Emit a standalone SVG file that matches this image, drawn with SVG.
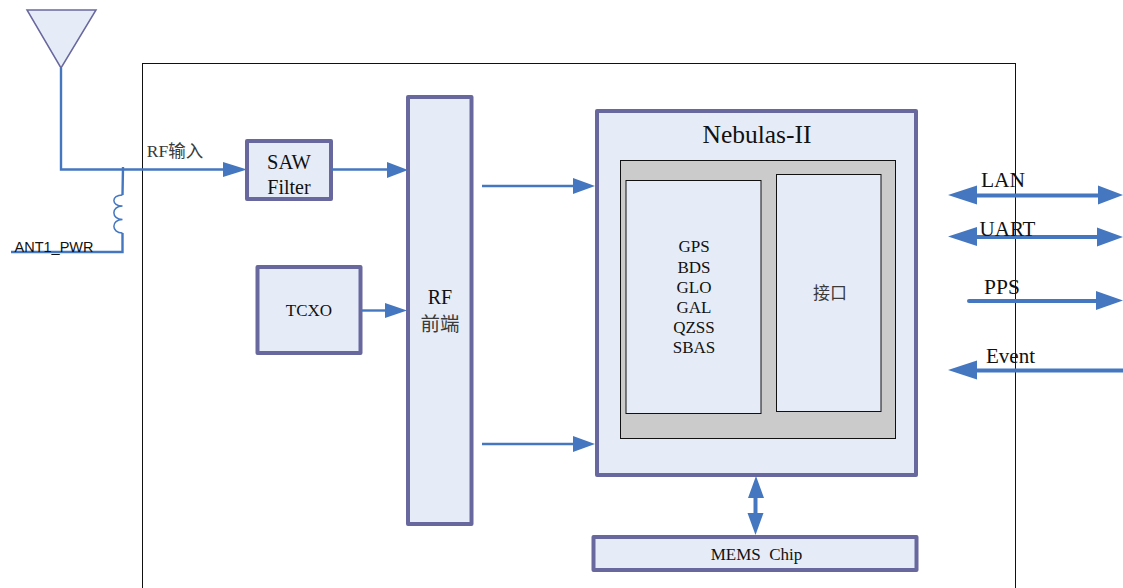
<svg xmlns="http://www.w3.org/2000/svg" width="1123" height="588" viewBox="0 0 1123 588">
<style>
text{font-family:"Liberation Serif","Noto Sans CJK SC",serif;fill:#111;text-anchor:middle}
text.cjk{fill:#3a3a3a}
.box{fill:#e6ecf7;stroke:#68689e;stroke-width:4;stroke-linejoin:round}
.thin{fill:#e6ecf7;stroke:#111;stroke-width:1}
.c{fill:none;stroke:#4577c0;stroke-width:2.4}
.t{fill:none;stroke:#4577c0;stroke-width:4}
.h{fill:#4577c0;stroke:none}
</style>
<rect id="frame" x="142.500" y="63.500" width="873" height="540" fill="none" stroke="#111" stroke-width="1"/>
<g id="antenna"><path d="M27 10H96L61 68Z" fill="#e6ecf7" stroke="#68689e" stroke-width="1.500"/></g>
<g id="saw"><rect class="box" x="247" y="141" width="84" height="58"/><text x="289" y="169" font-size="20.500">SAW</text><text x="289" y="194" font-size="20">Filter</text></g>
<g id="tcxo"><rect class="box" x="257.500" y="267" width="103" height="86"/><text x="309" y="316" font-size="17">TCXO</text></g>
<g id="rf"><rect class="box" x="408" y="97" width="63.500" height="427"/><text x="440" y="304" font-size="20">RF</text><text class="cjk" x="440" y="331" font-size="19.500">前端</text></g>
<g id="nebulas"><rect class="box" x="597" y="111" width="319" height="364"/><text x="757" y="143" font-size="25.500">Nebulas-II</text>
<rect x="620.500" y="160.500" width="275" height="278" fill="#cbcbcb" stroke="#111" stroke-width="1"/></g>
<g id="gnss"><rect class="thin" x="626" y="180.500" width="135" height="233"/>
<g font-size="17"><text x="694" y="252">GPS</text><text x="694" y="273">BDS</text><text x="694" y="293">GLO</text><text x="694" y="313">GAL</text><text x="694" y="333">QZSS</text><text x="694" y="353">SBAS</text></g></g>
<g id="iface"><rect class="thin" x="776.500" y="174.500" width="104.500" height="237"/><text class="cjk" x="830" y="299" font-size="17">接口</text></g>
<g id="mems"><rect class="box" x="593.500" y="537" width="323" height="33"/><text x="756.500" y="560" font-size="17" xml:space="preserve">MEMS  Chip</text></g>
<g id="connectors">
<path class="c" d="M61 68V169.500H226"/><path class="h" d="M223 162L247 169.500L223 177Z"/>
<path class="c" d="M123 167L122.500 195M122.500 233V252H11"/>
<path d="M122.500 195C111 195 111 206 122.500 206C111 206 111 219.500 122.500 219.500C111 219.500 111 233 122.500 233" fill="none" stroke="#4577c0" stroke-width="1.500"/>
<path class="c" d="M331 169.500H390"/><path class="h" d="M387 162L408 170L387 178Z"/>
<path class="c" d="M361 310.500H388"/><path class="h" d="M385 303L407 310.500L385 318Z"/>
<path class="c" d="M482 186H575"/><path class="h" d="M573 178L595 186L573 194Z"/>
<path class="c" d="M482 444H575"/><path class="h" d="M573 436L595 444L573 452Z"/>
<path class="t" d="M755.500 495V518"/><path class="h" d="M756 476L764 498H748ZM755.500 535L747.500 513H763.500Z"/>
<path class="t" d="M975 195.500H1100"/><path class="h" d="M948 195L977 185.500V204.500ZM1123 195L1098 185.500V204.500Z"/>
<path class="t" d="M975 237H1100"/><path class="h" d="M948 236.500L977 227V246ZM1123 237L1097 227.500V246.500Z"/>
<path class="t" d="M969 301L1100 301" stroke-linecap="round"/><path class="h" d="M1096 291L1123 300.500L1096 310Z"/>
<path class="t" d="M975 370.500H1123"/><path class="h" d="M948 370L977 360.500V379.500Z"/>
</g>
<g id="labels">
<text class="cjk" x="175" y="157" font-size="17.500">RF输入</text>
<text x="54" y="252" font-size="14.500" style="font-family:'Liberation Sans','Noto Sans',sans-serif">ANT1_PWR</text>
<text x="1003" y="187" font-size="21.500">LAN</text>
<text x="1007.500" y="236" font-size="21">UART</text>
<text x="1002" y="294" font-size="21.500">PPS</text>
<text x="1010.500" y="363" font-size="21">Event</text>
</g>
</svg>
